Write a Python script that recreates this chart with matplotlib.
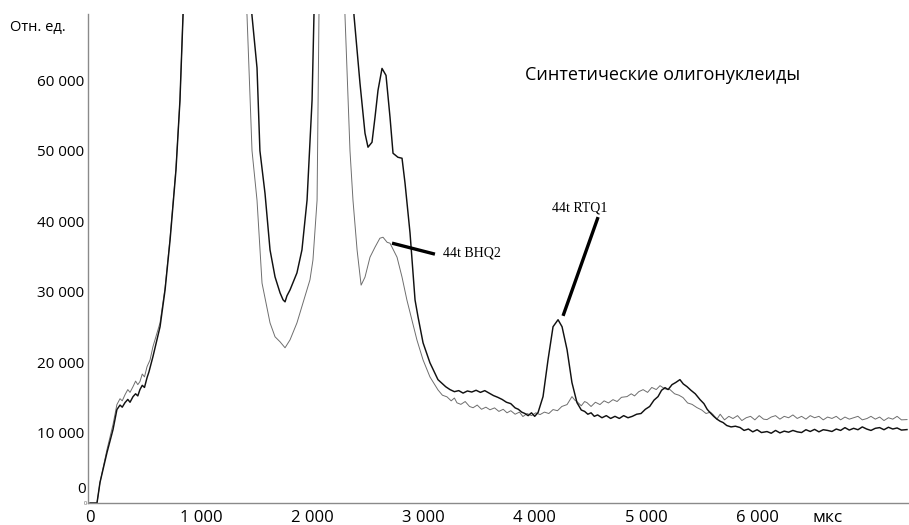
import matplotlib
matplotlib.use("Agg")
import matplotlib.pyplot as plt

plt.rcParams['font.family'] = ['Open Sans', 'DejaVu Sans']

# black trace (44t RTQ1), time in mks, signal in rel. units
black_t = [0, 63, 90, 153, 207, 242, 270, 290, 315, 340, 360, 387, 410, 430, 449, 470, 490, 513, 530,
           566, 630, 675, 720, 773, 809, 837,
           896, 1091, 1286, 1403,
           1457, 1502, 1528, 1574, 1619, 1664, 1709, 1736, 1754, 1771, 1799, 1861, 1906, 1952, 1997, 2014,
           2116, 2213,
           2374, 2402, 2428, 2473, 2500, 2536, 2563, 2590, 2626, 2662, 2698, 2725, 2769, 2806, 2833,
           2878, 2923, 2950, 2995, 3057, 3129, 3199,
           3238, 3277, 3316, 3355, 3394, 3433, 3472, 3511, 3550, 3589, 3628, 3667, 3706, 3745, 3784,
           3823, 3852, 3882, 3911, 3940, 3970, 3999, 4029,
           4074, 4119, 4164, 4209, 4245, 4290, 4334, 4379,
           4418, 4448, 4477, 4506, 4535, 4565, 4604, 4643, 4682, 4721, 4760, 4799, 4838, 4877, 4916,
           4955, 4994, 5033, 5072, 5108, 5140, 5171, 5199, 5234, 5267, 5305, 5335, 5369, 5404, 5443,
           5486, 5521, 5550, 5576, 5609, 5638, 5667, 5693, 5726, 5765, 5804, 5846, 5882, 5921, 5960,
           5999, 6038, 6088, 6126, 6165, 6204, 6243, 6282, 6321, 6360, 6399, 6438, 6477, 6516, 6555,
           6594, 6633, 6672, 6711, 6750, 6789, 6828, 6867, 6906, 6945, 6984, 7023, 7062, 7101, 7140,
           7180, 7219, 7258, 7297, 7347]
black_y = [0, 0, 2920, 7170, 10420, 13260, 13900, 13600, 14250, 14700, 14300, 15100, 15500, 15200, 16090, 16700, 16400, 17790, 18600,
           20770, 25020, 30220, 37300, 47220, 57140, 69350,
           90000, 160000, 120000, 80000,
           69120, 61750, 50000, 43920, 35920, 32090, 29830, 28840, 28550, 29400, 30250, 32660, 35920, 43000, 57170, 69200,
           140000, 160000,
           69200, 64240, 59560, 52480, 50500, 51200, 54740, 58570, 61680, 60690, 54740, 49640, 49070, 48930, 45390,
           38310, 28820, 26410, 22740, 19900, 17510, 16500,
           16090, 15800, 15950, 15600, 15900, 15750, 16000, 15700, 15950, 15600, 15250, 15000, 14700, 14300, 14100,
           13500, 13300, 12900, 12700, 12400, 12800, 12300, 12830,
           15100, 20340, 25020, 26010, 25020, 21760, 17090, 14250,
           13200, 13000, 12600, 12800, 12300, 12500, 12100, 12400, 12000, 12300, 12000, 12400, 12100, 12300, 12600,
           12700, 13300, 13700, 14600, 15100, 16000, 16370, 16100, 16800, 17100, 17510, 16900, 16510, 16000, 15500,
           14670, 14100, 13300, 12830, 12300, 11900, 11600, 11420, 11000, 10800, 10900, 10710, 10300, 10500, 10100,
           10400, 10000, 10140, 9900, 10300, 9950, 10200, 10050, 10300, 10100, 10000, 10400, 10150, 10450, 10100,
           10400, 10300, 10150, 10500, 10300, 10700, 10350, 10600, 10400, 10800, 10500, 10300, 10600, 10700, 10400,
           10750, 10500, 10650, 10350, 10420]

# grey trace (44t BHQ2)
grey_t = [0, 63, 90, 153, 207, 242, 270, 290, 315, 340, 360, 387, 410, 430, 449, 470, 490, 513, 540,
          566, 630, 675, 720, 773, 809, 837,
          994, 1189, 1364,
          1412, 1457, 1502, 1547, 1619, 1664, 1709, 1754, 1799, 1861, 1915, 1978, 2005, 2042, 2059,
          2165,
          2293, 2338, 2365, 2402, 2438, 2473, 2518, 2563, 2607, 2635, 2672, 2698, 2761, 2806, 2850,
          2895, 2940, 2995, 3057, 3129, 3169, 3210, 3248, 3277, 3300, 3335, 3374, 3413, 3445, 3482,
          3521, 3560, 3597, 3638, 3677, 3716, 3750, 3784, 3823, 3862, 3893, 3931, 3970, 4009, 4047,
          4087, 4126, 4164, 4204, 4243, 4290, 4311, 4334, 4360, 4379, 4418, 4448, 4469, 4506, 4545,
          4586, 4623, 4662, 4703, 4740, 4779, 4829, 4867, 4897, 4935, 4974, 5014, 5052, 5092, 5126,
          5170, 5216, 5257, 5296, 5333, 5374, 5414, 5458, 5501, 5540, 5579, 5603, 5638, 5667, 5706,
          5745, 5782, 5823, 5862, 5901, 5940, 5979, 6018, 6057, 6088, 6126, 6165, 6204, 6243, 6282,
          6321, 6360, 6399, 6438, 6477, 6516, 6555, 6594, 6633, 6672, 6711, 6750, 6789, 6828, 6867,
          6906, 6945, 6987, 7023, 7062, 7101, 7140, 7180, 7219, 7258, 7297, 7347]
grey_y = [0, 0, 2920, 7600, 11140, 13970, 14800, 14500, 15370, 16100, 15700, 16520, 17300, 16800, 17230, 18300, 17900, 19350, 20300,
          22180, 25580, 30540, 37620, 47540, 57140, 69350,
          150000, 150000, 80000,
          69200, 50000, 42960, 31210, 25560, 23590, 22880, 22030, 23160, 25560, 28400, 31670, 34490, 42960, 69200,
          150000,
          69200, 50000, 42960, 35880, 30920, 32060, 34890, 36310, 37580, 37720, 37000, 36870, 34890, 32060, 28800,
          25970, 23140, 20310, 17900, 16060, 15300, 15070, 14500, 14900, 14220, 14000, 14400, 13700, 13520, 13900,
          13300, 13600, 13230, 13500, 13000, 13300, 12800, 13100, 12600, 12900, 12270, 12700, 12400, 12800, 12550,
          12900, 12700, 13260, 13100, 13700, 13970, 14500, 15100, 14600, 14390, 13800, 14400, 14250, 13700, 14300,
          13970, 14500, 14200, 14670, 14400, 15000, 15100, 15500, 15200, 15800, 16090, 15700, 16400, 16100, 16650,
          16200, 16090, 15500, 15300, 14960, 14200, 14000, 13540, 13200, 12700, 12900, 12550, 11900, 12600, 11800,
          12300, 11990, 12400, 11700, 12100, 12300, 11800, 12400, 11900, 11840, 12200, 12400, 11900, 12300, 12100,
          12500, 12000, 12300, 11900, 12400, 12100, 12300, 11800, 12200, 12000, 12300, 11800, 12200, 11900, 12100,
          12300, 11800, 11990, 12300, 11900, 12200, 11700, 12100, 11900, 12300, 11800, 11840]

y_ticks = [10000, 20000, 30000, 40000, 50000, 60000]
y_ticklabels = ['10 000', '20 000', '30 000', '40 000', '50 000', '60 000']
x_ticks = [0, 1000, 2000, 3000, 4000, 5000, 6000]
x_ticklabels = ['0', '1 000', '2 000', '3 000', '4 000', '5 000', '6 000']

fig = plt.figure(figsize=(9.09, 5.25), dpi=100)
ax = fig.add_axes([0.0968, 0.0419, 0.9032, 0.9314])

ax.plot(grey_t, grey_y, color='#6e6e6e', lw=0.7)
ax.plot(black_t, black_y, color='#111111', lw=1.05)

ax.set_xlim(-18, 7365)
ax.set_ylim(0, 69400)

for s in ['top', 'right']:
    ax.spines[s].set_visible(False)
for s in ['left', 'bottom']:
    ax.spines[s].set_color('#8a8a8a')
    ax.spines[s].set_linewidth(1.0)

ax.set_yticks(y_ticks)
ax.set_yticklabels(y_ticklabels)
ax.set_xticks(x_ticks)
ax.set_xticklabels(x_ticklabels)
ax.tick_params(axis='both', length=0, colors='black')
ax.tick_params(axis='y', pad=3, labelsize=11)
ax.tick_params(axis='x', pad=5, labelsize=12)

# "0" on y axis sits a bit above the axis line in the original
ax.text(-40, 1900, '0', ha='right', va='center', fontsize=11)
ax.text(-25, 0, '0', ha='right', va='center', fontsize=4, color='#555555')

fig.text(0.011, 0.948, 'Отн. ед.', ha='left', va='center', fontsize=10.5)
fig.text(0.894, 0.013, 'мкс', ha='left', va='center', fontsize=12.5)

ax.text(3911, 60700, 'Синтетические олигонуклеиды', ha='left', va='center', fontsize=13)

# peak labels
ax.plot([2716, 3102], [36880, 35320], color='black', lw=2.4, solid_capstyle='butt')
ax.text(3174, 35450, '44t BHQ2', ha='left', va='center', fontsize=10,
        family=['Liberation Serif', 'DejaVu Serif'])
ax.plot([4569, 4254], [40580, 26560], color='black', lw=2.4, solid_capstyle='butt')
ax.text(4407, 40900, '44t RTQ1', ha='center', va='bottom', fontsize=10,
        family=['Liberation Serif', 'DejaVu Serif'])

fig.savefig('out.png', dpi=100)
